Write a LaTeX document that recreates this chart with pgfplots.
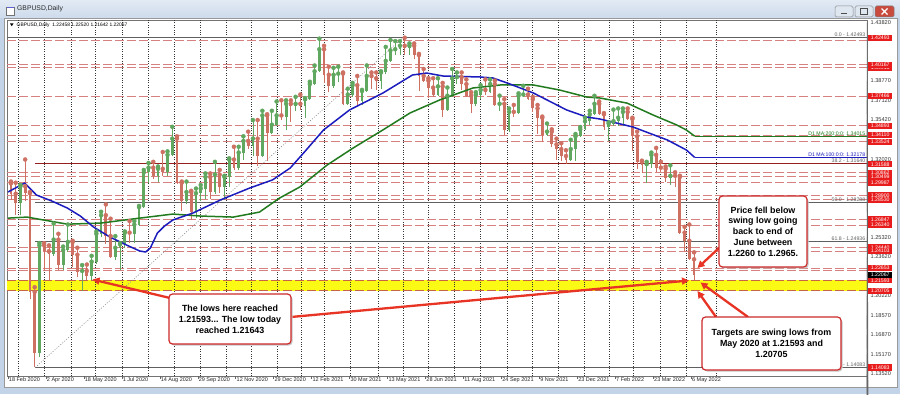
\documentclass[border=0pt]{standalone}
\usepackage{pgfplots}
\pgfplotsset{compat=1.18}
\usepackage{pgfplotstable}
\usepackage{fontspec}
\setmainfont{Liberation Sans}
\usetikzlibrary{arrows.meta}

\definecolor{cup}{RGB}{96,168,96}
\definecolor{cdn}{RGB}{206,112,98}
\definecolor{lvl}{RGB}{214,128,128}
\definecolor{bandc}{RGB}{250,250,20}
\definecolor{bandedge}{RGB}{200,100,70}
\definecolor{mab}{RGB}{28,28,190}
\definecolor{mag}{RGB}{34,122,30}
\definecolor{fibgray}{RGB}{95,95,95}
\definecolor{fibred}{RGB}{150,30,30}
\definecolor{lblred}{RGB}{232,28,28}
\definecolor{boxred}{RGB}{205,40,40}
\definecolor{arrred}{RGB}{232,52,36}
\definecolor{framec}{RGB}{196,212,232}

\tikzset{lvlline/.style={draw=lvl, line width=0.9pt, dash pattern=on 9pt off 3pt},
  ann/.style={draw=boxred, line width=1.2pt, fill=white, rounded corners=3.5pt},
  arr/.style={draw=arrred, line width=2.3pt, -{Triangle[length=7pt,width=7pt]}}}

\newcommand{\lvl}[1]{\draw[lvlline] (axis cs:-0.84,#1) -- (axis cs:724.3,#1);}
\newcommand{\graylab}[2]{\draw[black!60,line width=0.5pt] (axis cs:724.3,#1) -- ++(2.5pt,0);
  \node[anchor=west, inner sep=0pt, xshift=3.5pt, font=\fontsize{5.6}{6}\selectfont, text=black!80] at (axis cs:724.3,#1) {#2};}
\newcommand{\rbox}[2]{\node[anchor=west, fill=lblred, text=white, inner sep=0pt, minimum width=24pt, minimum height=6.2pt, xshift=1pt, font=\fontsize{5.2}{5.2}\selectfont] at (axis cs:724.3,#1) {#2};}
\newcommand{\fiblab}[3]{\node[anchor=south east, inner sep=0.6pt, xshift=-1pt, font=\fontsize{5.2}{5.5}\selectfont, text=#3] at (axis cs:724.3,#1) {#2};}

\pgfplotstableread{
x o h l c
10.5 1.2825 1.2980 1.2725 1.2970
26.5 1.1530 1.2480 1.1500 1.2460
38.5 1.2390 1.2648 1.2370 1.2510
46.5 1.2290 1.2450 1.2250 1.2420
50.5 1.2420 1.2640 1.2400 1.2490
62.5 1.2230 1.2290 1.20705 1.2240
70.5 1.2200 1.2370 1.2165 1.2320
74.5 1.2320 1.2580 1.2300 1.2560
78.5 1.2560 1.2750 1.2530 1.2720
90.5 1.2360 1.2540 1.2330 1.2440
94.5 1.2440 1.2480 1.2252 1.2470
98.5 1.2470 1.2580 1.2440 1.2570
106.5 1.2560 1.2670 1.2480 1.2640
110.5 1.2640 1.2800 1.2630 1.2790
114.5 1.2790 1.3110 1.2780 1.3090
118.5 1.3090 1.3170 1.3000 1.3130
126.5 1.3060 1.3140 1.3010 1.3120
134.5 1.3090 1.3270 1.3060 1.3240
138.5 1.3240 1.3482 1.3230 1.3380
150.5 1.2840 1.3010 1.2820 1.2920
158.5 1.2750 1.2950 1.2700 1.2910
162.5 1.2910 1.2980 1.2840 1.2950
166.5 1.2950 1.3080 1.2860 1.3050
174.5 1.2920 1.3180 1.2900 1.3070
182.5 1.2960 1.3060 1.2855 1.3050
186.5 1.3050 1.3210 1.2960 1.3200
194.5 1.3130 1.3310 1.3110 1.3260
198.5 1.3260 1.3400 1.3200 1.3360
206.5 1.3320 1.3540 1.3230 1.3380
214.5 1.3230 1.3620 1.3220 1.3580
222.5 1.3430 1.3620 1.3420 1.3500
226.5 1.3500 1.3700 1.3490 1.3580
234.5 1.3570 1.3710 1.3450 1.3680
242.5 1.3660 1.3740 1.3620 1.3680
250.5 1.3660 1.3730 1.3560 1.3720
254.5 1.3720 1.3870 1.3710 1.3850
258.5 1.3850 1.4010 1.3840 1.3960
262.5 1.3960 1.4241 1.3950 1.4150
274.5 1.3830 1.3990 1.3820 1.3930
278.5 1.3930 1.4000 1.3870 1.3940
286.5 1.3680 1.3810 1.3670 1.3760
290.5 1.3760 1.3860 1.3740 1.3840
298.5 1.3700 1.3800 1.3670 1.3790
302.5 1.3790 1.4010 1.3780 1.3920
314.5 1.3880 1.3960 1.3810 1.3950
318.5 1.3950 1.4170 1.3940 1.4050
322.5 1.4050 1.4230 1.4040 1.4140
326.5 1.4140 1.4220 1.4100 1.4150
330.5 1.4150 1.4220 1.4100 1.4180
338.5 1.4160 1.4200 1.4100 1.4180
362.5 1.3760 1.3900 1.3750 1.3830
370.5 1.3630 1.3820 1.3620 1.3750
374.5 1.3750 1.3980 1.3740 1.3900
378.5 1.3900 1.3950 1.3850 1.3910
394.5 1.3680 1.3780 1.3660 1.3760
398.5 1.3760 1.3840 1.3720 1.3800
406.5 1.3780 1.3890 1.3770 1.3850
414.5 1.3670 1.3750 1.3620 1.3680
422.5 1.3450 1.3640 1.3440 1.3610
430.5 1.3600 1.3770 1.3590 1.3750
434.5 1.3750 1.3835 1.3740 1.3760
454.5 1.3410 1.3510 1.3400 1.3440
474.5 1.3200 1.3370 1.3190 1.3290
478.5 1.3290 1.3420 1.3190 1.3400
482.5 1.3400 1.3480 1.3390 1.3460
486.5 1.3460 1.3560 1.3450 1.3530
490.5 1.3530 1.3620 1.3500 1.3590
494.5 1.3590 1.3749 1.3580 1.3680
506.5 1.3480 1.3520 1.3360 1.3510
510.5 1.3510 1.3630 1.3490 1.3530
514.5 1.3530 1.3640 1.3490 1.3560
518.5 1.3560 1.3640 1.3490 1.3610
538.5 1.3150 1.3180 1.3000 1.3160
542.5 1.3160 1.3260 1.3130 1.3240
558.5 1.3040 1.3150 1.2980 1.3060
}\upT

\pgfplotstableread{
x o h l c
2.5 1.2995 1.3010 1.2850 1.2905
6.5 1.2905 1.3000 1.2725 1.2825
14.5 1.2970 1.3200 1.2840 1.2910
18.5 1.2910 1.2920 1.2000 1.2060
22.5 1.2060 1.2100 1.14083 1.1530
30.5 1.2460 1.2480 1.2240 1.2410
34.5 1.2410 1.2460 1.2165 1.2390
42.5 1.2510 1.2560 1.2250 1.2290
54.5 1.2490 1.2500 1.2270 1.2380
58.5 1.2380 1.2440 1.2190 1.2230
66.5 1.2240 1.2295 1.21593 1.2200
82.5 1.2720 1.2813 1.2470 1.2540
86.5 1.2540 1.2690 1.2350 1.2360
102.5 1.2570 1.2670 1.2480 1.2560
122.5 1.3130 1.3180 1.3030 1.3060
130.5 1.3120 1.3265 1.3060 1.3090
142.5 1.3380 1.3400 1.2990 1.3000
146.5 1.3000 1.3010 1.2760 1.2840
154.5 1.2920 1.2930 1.2676 1.2750
170.5 1.3050 1.3080 1.2860 1.2920
178.5 1.3070 1.3110 1.2910 1.2960
190.5 1.3200 1.3310 1.3110 1.3130
202.5 1.3360 1.3440 1.3290 1.3320
210.5 1.3380 1.3540 1.3140 1.3230
218.5 1.3580 1.3590 1.3190 1.3430
230.5 1.3580 1.3710 1.3540 1.3570
238.5 1.3680 1.3710 1.3520 1.3660
246.5 1.3680 1.3760 1.3630 1.3660
266.5 1.4150 1.4180 1.3860 1.3930
270.5 1.3930 1.4000 1.3780 1.3830
282.5 1.3940 1.3950 1.3670 1.3680
294.5 1.3840 1.3920 1.3670 1.3700
306.5 1.3920 1.3950 1.3810 1.3900
310.5 1.3900 1.3950 1.3800 1.3880
334.5 1.4180 1.42493 1.4100 1.4160
342.5 1.4180 1.4200 1.4070 1.4100
346.5 1.4100 1.4110 1.3790 1.3920
350.5 1.3920 1.3980 1.3870 1.3880
354.5 1.3880 1.3900 1.3730 1.3820
358.5 1.3820 1.3900 1.3740 1.3760
366.5 1.3830 1.3860 1.3570 1.3630
382.5 1.3910 1.3950 1.3800 1.3850
386.5 1.3850 1.3890 1.3740 1.3750
390.5 1.3750 1.3780 1.3600 1.3680
402.5 1.3800 1.3890 1.3760 1.3780
410.5 1.3850 1.3880 1.3660 1.3670
418.5 1.3680 1.3720 1.3412 1.3450
426.5 1.3610 1.3670 1.3570 1.3600
438.5 1.3760 1.3810 1.3710 1.3720
442.5 1.3720 1.3740 1.3610 1.3640
446.5 1.3640 1.3670 1.3420 1.3560
450.5 1.3560 1.3570 1.3350 1.3410
458.5 1.3440 1.3460 1.3310 1.3330
462.5 1.3330 1.3380 1.3200 1.3290
466.5 1.3290 1.3340 1.3190 1.3230
470.5 1.3230 1.3280 1.3160 1.3200
498.5 1.3680 1.3700 1.3580 1.3590
502.5 1.3590 1.3600 1.3450 1.3480
522.5 1.3610 1.3640 1.3540 1.3550
526.5 1.3550 1.3560 1.3270 1.3400
530.5 1.3400 1.3440 1.3120 1.3180
534.5 1.3180 1.3190 1.3080 1.3150
546.5 1.3240 1.3300 1.3090 1.3130
550.5 1.3130 1.3180 1.3090 1.3120
554.5 1.3120 1.3140 1.3010 1.3040
562.5 1.3060 1.3090 1.2960 1.3050
566.5 1.3050 1.3060 1.2560 1.2570
570.5 1.2570 1.2620 1.2410 1.2500
574.5 1.2500 1.2640 1.2330 1.2340
578.5 1.2340 1.2400 1.21642 1.22067
}\dnT

\begin{document}
\begin{tikzpicture}[x=1pt,y=1pt]
\useasboundingbox (0,0) rectangle (900,394);
% window chrome
\fill[framec] (0,0) rectangle (900,394);
\shade[top color={rgb,255:red,226;green,234;blue,244}, bottom color={rgb,255:red,206;green,219;blue,236}] (0,376) rectangle (900,394);
\fill[white] (4,7) rectangle (897,376);
\draw[black!40, line width=0.5pt] (4,7) rectangle (897,376);
% title
\fill[white] (6.5,379) rectangle (14,387);
\draw[black!55, line width=0.4pt] (6.5,379) rectangle (14,387);
\fill[mab!70] (6.5,385.5) rectangle (14,387);
\node[anchor=west, inner sep=0pt, font=\fontsize{6.8}{7}\selectfont, text=black!85] at (17,385.5) {GBPUSD,Daily};
% window buttons
\draw[black!45, fill={rgb,255:red,222;green,230;blue,240}, rounded corners=1.5pt, line width=0.5pt] (835,377) rectangle (853,388);
\draw[black!70, line width=1pt] (841,380.5) -- (847,380.5);
\draw[black!45, fill={rgb,255:red,222;green,230;blue,240}, rounded corners=1.5pt, line width=0.5pt] (855,377) rectangle (873,388);
\draw[black!70, line width=0.6pt] (860.5,379.5) rectangle (867.5,385.5);
\draw[black!50, fill={rgb,255:red,200;green,75;blue,62}, rounded corners=1.5pt, line width=0.5pt] (875,377) rectangle (894,388);
\draw[white, line width=1.1pt] (881.5,379.5) -- (887.5,385.5) (881.5,385.5) -- (887.5,379.5);

\begin{axis}[at={(7pt,18pt)}, anchor=south west, scale only axis,
  width=860pt, height=356pt,
  xmin=-0.84, xmax=724.3, ymin=1.13347, ymax=1.44018,
  xtick=\empty, ytick=\empty, clip=false,
  axis line style={draw=black!55, line width=0.7pt},
  axis background/.style={fill=white}]
% yellow band
\fill[bandc] (axis cs:-0.84,1.20705) rectangle (axis cs:724.3,1.21593);
% monthly grid
\pgfplotsinvokeforeach{9,31,53,74,96,118,140,162,184,205,227,247,267,289,312,333,354,376,398,421,442,464,486,507,527,550,572,597}{
  \draw[black!80, line width=0.55pt, dash pattern=on 0.8pt off 1.6pt] (axis cs:#1,1.13347) -- (axis cs:#1,1.44018);}
% levels
\lvl{1.42290}\lvl{1.40167}\lvl{1.39913}\lvl{1.37466}\lvl{1.34893}\lvl{1.34110}\lvl{1.33524}
\lvl{1.30862}\lvl{1.30499}\lvl{1.29987}\lvl{1.28900}\lvl{1.28530}\lvl{1.26847}\lvl{1.26340}
\lvl{1.24440}\lvl{1.24103}\lvl{1.22653}\lvl{1.22400}
\draw[bandedge, line width=0.9pt, dash pattern=on 9pt off 3pt] (axis cs:-0.84,1.21593) -- (axis cs:724.3,1.21593);
\draw[bandedge, line width=0.9pt, dash pattern=on 9pt off 3pt] (axis cs:-0.84,1.20705) -- (axis cs:724.3,1.20705);
% fibonacci
\draw[fibgray, line width=0.6pt] (axis cs:-0.84,1.42493) -- (axis cs:724.3,1.42493);
\draw[fibred, line width=0.9pt] (axis cs:23,1.31640) -- (axis cs:724.3,1.31640);
\draw[fibgray, line width=0.6pt] (axis cs:23,1.28288) -- (axis cs:724.3,1.28288);
\draw[fibgray, line width=0.6pt] (axis cs:23,1.24936) -- (axis cs:724.3,1.24936);
\draw[fibgray, line width=0.6pt] (axis cs:23,1.14083) -- (axis cs:724.3,1.14083);
\draw[black!45, line width=0.6pt, dash pattern=on 1pt off 1.6pt] (axis cs:23,1.14083) -- (axis cs:333,1.42493);
% candles
\addplot[color=cup, only marks, mark=none, error bars/.cd, y dir=minus, y explicit, error mark=none,
  error bar style={color=cup, line width=0.8pt}] table[x=x, y=h, y error minus expr=\thisrow{h}-\thisrow{l}] {\upT};
\addplot[color=cup, only marks, mark=none, error bars/.cd, y dir=minus, y explicit, error mark=none,
  error bar style={color=cup, line width=2.8pt}] table[x=x, y=c, y error minus expr=\thisrow{c}-\thisrow{o}] {\upT};
\addplot[color=cdn, only marks, mark=none, error bars/.cd, y dir=minus, y explicit, error mark=none,
  error bar style={color=cdn, line width=0.8pt}] table[x=x, y=h, y error minus expr=\thisrow{h}-\thisrow{l}] {\dnT};
\addplot[color=cdn, only marks, mark=none, error bars/.cd, y dir=minus, y explicit, error mark=none,
  error bar style={color=cdn, line width=2.8pt}] table[x=x, y=o, y error minus expr=\thisrow{o}-\thisrow{c}] {\dnT};
% moving averages
\addplot[mag, line width=1.5pt, line join=round] coordinates {
(0,1.2695) (16,1.2704) (50,1.2643) (78,1.2652) (111,1.2695) (139,1.2730) (162,1.2713) (190,1.2704)
(212,1.2747) (229,1.2868) (246,1.2963) (269,1.3152) (291,1.3299) (316,1.3454) (339,1.3601) (364,1.3713)
(392,1.3816) (415,1.3842) (443,1.3842) (465,1.3799) (488,1.3738) (499,1.3730) (522,1.3686) (544,1.3583)
(564,1.3497) (572,1.3454) (579,1.34015)};
\addplot[mag, line width=0.8pt] coordinates {(579,1.34015) (724.3,1.34015)};
\addplot[mab, line width=1.5pt, line join=round] coordinates {
(0,1.2920) (14,1.2997) (24,1.2894) (37,1.2842) (50,1.2782) (61,1.2713) (72,1.2619) (86,1.2532)
(100,1.2463) (111,1.2412) (116,1.2403) (120,1.2437) (126,1.2567) (132,1.2627) (139,1.2679) (156,1.2739)
(179,1.2851) (204,1.2955) (223,1.3024) (238,1.3127) (250,1.3265) (266,1.3454) (288,1.3627) (316,1.3772)
(341,1.3928) (353,1.3945) (367,1.3919) (398,1.3911) (409,1.3902) (421,1.3859) (443,1.3773) (471,1.3627)
(488,1.3566) (499,1.3549) (527,1.3480) (556,1.3368) (572,1.3282) (579,1.32178)};
\addplot[mab, line width=1.5pt] coordinates {(579,1.32178) (724.3,1.32178)};
% line labels
\fiblab{1.42493}{0.0 - 1.42493}{fibgray}
\fiblab{1.31640}{38.2 - 1.31640}{fibgray}
\fiblab{1.28288}{50.0 - 1.28288}{fibgray}
\fiblab{1.24936}{61.8 - 1.24936}{fibgray}
\fiblab{1.14083}{100.0 - 1.14083}{fibgray}
\fiblab{1.34015}{D1 MA:200:0:0: 1.34015}{mag}
\fiblab{1.32178}{D1 MA:100:0:0: 1.32178}{mab}
% right price scale (only the scale values that the level boxes leave visible)
\graylab{1.43820}{1.43820}\graylab{1.38770}{1.38770}
\graylab{1.37087}{1.37120}\graylab{1.35403}{1.35420}\graylab{1.32037}{1.32020}
\graylab{1.25303}{1.25320}
\graylab{1.23620}{1.23620}\graylab{1.20253}{1.20220}\graylab{1.18570}{1.18570}
\graylab{1.16887}{1.16870}\graylab{1.15203}{1.15170}\graylab{1.13520}{1.13520}
\rbox{1.42493}{1.42493}\rbox{1.39913}{1.39913}\rbox{1.40167}{1.40167}\rbox{1.37466}{1.37466}
\rbox{1.34893}{1.34893}\rbox{1.34110}{1.34110}\rbox{1.33524}{1.33524}\rbox{1.31588}{1.31588}
\rbox{1.30862}{1.30862}\rbox{1.30499}{1.30499}\rbox{1.29987}{1.29987}\rbox{1.28900}{1.28900}
\rbox{1.28530}{1.28530}\rbox{1.26847}{1.26847}\rbox{1.26340}{1.26340}\rbox{1.24440}{1.24440}
\rbox{1.24103}{1.24103}\rbox{1.22653}{1.22653}\rbox{1.21593}{1.21593}\rbox{1.20705}{1.20705}
\rbox{1.14083}{1.14083}
\node[anchor=west, fill=black, text=white, inner sep=0pt, minimum width=24pt, minimum height=6.2pt, xshift=1pt, font=\fontsize{5.2}{5.2}\selectfont] at (axis cs:724.3,1.22067) {1.22067};
\end{axis}

% info line
\fill[black] (10,370.5) -- (13.5,370.5) -- (11.75,367.8) -- cycle;
\node[anchor=west, inner sep=0pt, font=\fontsize{4.9}{5}\selectfont] at (16.5,369) {GBPUSD,Daily\ \ 1.22458 1.22520 1.21642 1.22067};
% date labels
\foreach \b/\t in {0/18 Feb 2020, 32/2 Apr 2020, 64/18 May 2020, 96/1 Jul 2020, 128/14 Aug 2020, 160/29 Sep 2020, 192/12 Nov 2020, 224/29 Dec 2020, 256/12 Feb 2021, 288/30 Mar 2021, 320/13 May 2021, 352/28 Jun 2021, 384/11 Aug 2021, 416/24 Sep 2021, 448/9 Nov 2021, 480/23 Dec 2021, 512/7 Feb 2022, 544/23 Mar 2022, 576/6 May 2022}{
  \draw[black!60, line width=0.5pt] ({8+1.186*\b},18) -- ++(0,-2.5);
  \node[anchor=north west, inner sep=0pt, font=\fontsize{5.5}{6}\selectfont, text=black!85] at ({8.8+1.186*\b},16.5) {\t};}

% arrows
\draw[arr] (170,96) -- (92.5,114.5);
\draw[arr] (291,77) -- (689,113.5);
\draw[arr] (719,146) -- (697.5,126);
\draw[arr] (748,77) -- (700.5,111.5);
\draw[arr] (716,77) -- (697.5,103);

% annotation boxes
\fill[black!22, rounded corners=3.5pt] (170.5,48.5) rectangle (292.5,98.5);
\draw[ann] (169,50) rectangle (291,100);
\node[align=center, font=\bfseries\fontsize{8.9}{11}\selectfont] at (230,75) {The lows here reached\\1.21593... The low today\\reached 1.21643};
\fill[black!22, rounded corners=3.5pt] (720.5,125.5) rectangle (808.5,196.5);
\draw[ann] (719,127) rectangle (807,198);
\node[align=center, font=\bfseries\fontsize{8.9}{10.8}\selectfont] at (763,162.5) {Price fell below\\swing low going\\back to end of\\June between\\1.2260 to 1.2965.};
\fill[black!22, rounded corners=3.5pt] (703.5,22.5) rectangle (842.5,75.5);
\draw[ann] (702,24) rectangle (841,77);
\node[align=center, font=\bfseries\fontsize{8.9}{11}\selectfont] at (771.5,50.5) {Targets are swing lows from\\May 2020 at 1.21593 and\\1.20705};
\end{tikzpicture}
\end{document}
